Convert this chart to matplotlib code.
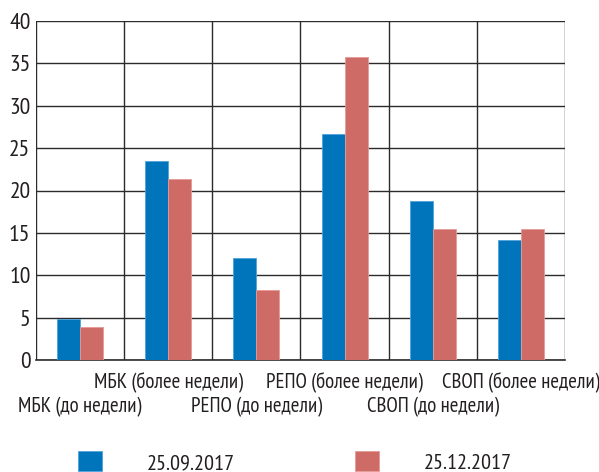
import matplotlib
matplotlib.use("Agg")
import matplotlib.pyplot as plt
from matplotlib import font_manager as fm
from matplotlib.ft2font import FT2Font
import numpy as np

categories = ['МБК (до недели)', 'МБК (более недели)', 'РЕПО (до недели)',
              'РЕПО (более недели)', 'СВОП (до недели)', 'СВОП (более недели)']
series_labels = ['25.09.2017', '25.12.2017']
values_sep = [4.8, 23.5, 12.0, 26.7, 18.8, 14.2]
values_dec = [3.9, 21.4, 8.3, 35.7, 15.5, 15.4]
yticks = [0, 5, 10, 15, 20, 25, 30, 35, 40]


def has_cyrillic(path):
    try:
        cm = FT2Font(path).get_charmap()
        return all(ord(c) in cm for c in 'МБКРЕПОСВдоелиб')
    except Exception:
        return False


def pick_font():
    prefs = ['PT Sans Narrow', 'Roboto Condensed', 'Fira Sans Condensed',
             'IBM Plex Sans Condensed', 'Open Sans Condensed', 'Archivo Narrow',
             'Noto Sans Display', 'Liberation Sans Narrow']
    entries = [f for f in fm.fontManager.ttflist if f.style == 'normal']
    for p in prefs:
        for f in sorted(entries, key=lambda e: abs((e.weight if isinstance(e.weight, int) else 400) - 400)):
            if f.name == p and has_cyrillic(f.fname):
                return fm.FontProperties(fname=f.fname), f.name
    for f in entries:
        if (str(f.stretch) in ('condensed', 'semi-condensed') or 'Narrow' in f.name
                or 'Condensed' in f.name) and f.weight in (400, 'normal') and has_cyrillic(f.fname):
            return fm.FontProperties(fname=f.fname), f.name
    return fm.FontProperties(family='DejaVu Sans', stretch='condensed'), 'DejaVu'


fp, fname = pick_font()

blue = '#0075BC'
red = '#CF6B66'
txt = '#231F20'

fig = plt.figure(figsize=(5.99, 4.72), dpi=100)
ax = fig.add_axes([36/599, 1-360/472, (565-36)/599, (360-21)/472])

x = np.arange(len(categories))
w = 0.26
b1 = ax.bar(x - w/2, values_sep, w, color=blue, edgecolor='#4FA3DA', linewidth=0.6, zorder=3)
b2 = ax.bar(x + w/2, values_dec, w, color=red, edgecolor='#E59A95', linewidth=0.6, zorder=3)

ax.set_xlim(-0.5, len(categories) - 0.5)
ax.set_ylim(0, 40)
ax.set_yticks(yticks)
ax.set_yticklabels([str(v) for v in yticks])
for t in ax.get_yticklabels():
    t.set_fontproperties(fp)
    t.set_fontsize(17)
    t.set_color(txt)
ax.tick_params(axis='y', length=0, pad=4)

ax.set_xticks(np.arange(len(categories) + 1) - 0.5, minor=True)
ax.grid(True, axis='y', color='#2B2B2B', linewidth=1.0, zorder=1)
ax.grid(True, axis='x', which='minor', color='#2B2B2B', linewidth=1.0, zorder=1)
ax.tick_params(axis='x', which='minor', length=0)

# upper row: tick labels of the "более недели" categories
upper_idx = [i for i in range(len(categories)) if i % 2 == 1]
lower_idx = [i for i in range(len(categories)) if i % 2 == 0]
ax.set_xticks(x[upper_idx])
ax.set_xticklabels([categories[i] for i in upper_idx])
for t in ax.get_xticklabels():
    t.set_fontproperties(fp)
    t.set_fontsize(15)
    t.set_color(txt)
ax.tick_params(axis='x', length=0, pad=9)

# lower row: "до недели" categories
for i in lower_idx:
    ax.annotate(categories[i], xy=(x[i], 0), xycoords=ax.get_xaxis_transform(),
                xytext=(0, -26.5), textcoords='offset points', ha='center', va='top',
                fontproperties=fp, fontsize=15, color=txt, annotation_clip=False)

for s in ['left', 'right', 'top']:
    ax.spines[s].set_visible(False)
ax.spines['bottom'].set_color('#2B2B2B')
ax.spines['bottom'].set_linewidth(1.2)

lp = fp.copy()
lp.set_size(16)
leg = fig.legend([b1, b2], series_labels, ncol=2, loc='lower left',
                 bbox_to_anchor=(78/599, -1/472), frameon=False, prop=lp,
                 handlelength=1.1, handleheight=1.0, handletextpad=2.0,
                 columnspacing=5.4, borderaxespad=0, borderpad=0)
for t in leg.get_texts():
    t.set_color(txt)

fig.savefig('out.png', dpi=100)
